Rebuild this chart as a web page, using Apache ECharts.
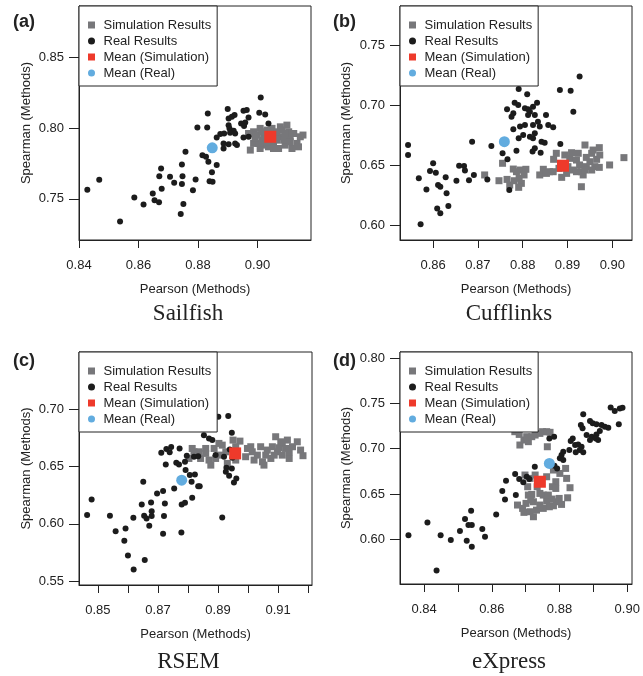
<!DOCTYPE html>
<html>
<head>
<meta charset="utf-8">
<script src="https://cdn.jsdelivr.net/npm/echarts@6.0.0/dist/echarts.min.js"></script>
<style>
  html, body { margin: 0; padding: 0; background: #fff; }
  #main { width: 643px; height: 676px; }
</style>
</head>
<body>
<div id="main"></div>
<script>
var myChart = echarts.init(document.getElementById('main'));

// (a) Sailfish
var simA = [[0.8976,0.7844],[0.8987,0.7973],[0.8998,0.7950],[0.9009,0.7997],[0.9015,0.7914],[0.9026,0.7879],[0.9009,0.7855],[0.9037,0.7867],[0.9054,0.7891],[0.9065,0.7914],[0.9077,0.8008],[0.9082,0.7985],[0.9099,0.8020],[0.9105,0.7973],[0.9110,0.7938],[0.9122,0.7961],[0.9133,0.7891],[0.9144,0.7938],[0.9153,0.7950],[0.9116,0.7855],[0.9093,0.7879],[0.9077,0.7938],[0.9060,0.7961],[0.9049,0.7997],[0.9032,0.7985],[0.9021,0.7938],[0.8987,0.7891],[0.9004,0.7891],[0.8970,0.7961],[0.8992,0.7926],[0.9071,0.7855],[0.9088,0.7914],[0.9138,0.7867],[0.9110,0.7903],[0.9015,0.7973],[0.9054,0.7855],[0.9093,0.7961],[0.9043,0.7926],[0.9065,0.7973],[0.9032,0.7903]];
var realA = [[0.9011,0.8215],[0.8900,0.8133],[0.8953,0.8121],[0.8964,0.8126],[0.8833,0.8102],[0.9006,0.8107],[0.9026,0.8095],[0.8923,0.8091],[0.8903,0.8067],[0.8914,0.8079],[0.8970,0.8074],[0.8945,0.8032],[0.8959,0.8039],[0.8955,0.8013],[0.9037,0.8032],[0.8798,0.8004],[0.8831,0.8004],[0.8903,0.8020],[0.8906,0.7997],[0.8920,0.7980],[0.8875,0.7957],[0.8888,0.7961],[0.8908,0.7966],[0.8925,0.7961],[0.8863,0.7933],[0.8953,0.7933],[0.8970,0.7938],[0.8886,0.7891],[0.8903,0.7886],[0.8925,0.7891],[0.8931,0.7879],[0.8886,0.7855],[0.8758,0.7832],[0.8815,0.7808],[0.8827,0.7797],[0.8835,0.7761],[0.8863,0.7738],[0.8746,0.7743],[0.8676,0.7714],[0.8847,0.7688],[0.8670,0.7660],[0.8706,0.7656],[0.8748,0.7660],[0.8792,0.7637],[0.8468,0.7634],[0.8720,0.7613],[0.8746,0.7604],[0.8839,0.7625],[0.8849,0.7620],[0.8678,0.7571],[0.8783,0.7561],[0.8428,0.7564],[0.8648,0.7538],[0.8586,0.7510],[0.8654,0.7491],[0.8669,0.7477],[0.8617,0.7460],[0.8751,0.7463],[0.8742,0.7394],[0.8538,0.7340]];
var meanSimA = [[0.9043,0.7938]];
var meanRealA = [[0.8848,0.7860]];

// (b) Cufflinks
var simB = [[0.8715,0.6419],[0.8747,0.6371],[0.8755,0.6516],[0.8779,0.6468],[0.8786,0.6446],[0.8795,0.6460],[0.8807,0.6466],[0.8803,0.6419],[0.8792,0.6391],[0.8797,0.6349],[0.8771,0.6335],[0.8765,0.6382],[0.8791,0.6316],[0.8781,0.6371],[0.8838,0.6419],[0.8846,0.6466],[0.8860,0.6446],[0.8869,0.6549],[0.8875,0.6599],[0.8881,0.6474],[0.8887,0.6399],[0.8901,0.6488],[0.8905,0.6557],[0.8913,0.6460],[0.8909,0.6604],[0.8920,0.6543],[0.8924,0.6599],[0.8927,0.6502],[0.8931,0.6446],[0.8939,0.6668],[0.8942,0.6565],[0.8942,0.6488],[0.8950,0.6529],[0.8954,0.6599],[0.8957,0.6626],[0.8961,0.6488],[0.8965,0.6549],[0.8971,0.6646],[0.8972,0.6585],[0.8971,0.6482],[0.8994,0.6502],[0.9026,0.6563],[0.8931,0.6321],[0.8935,0.6419],[0.8920,0.6446],[0.8898,0.6432],[0.8868,0.6446],[0.8853,0.6432],[0.8894,0.6585],[0.8939,0.6460],[0.8954,0.6460]];
var realB = [[0.8927,0.7237],[0.8883,0.7126],[0.8907,0.7120],[0.8791,0.7134],[0.8810,0.7090],[0.8913,0.6945],[0.8782,0.7020],[0.8790,0.7001],[0.8832,0.7020],[0.8823,0.6987],[0.8805,0.6973],[0.8812,0.6965],[0.8816,0.6945],[0.8765,0.6965],[0.8779,0.6932],[0.8775,0.6904],[0.8812,0.6918],[0.8827,0.6918],[0.8852,0.6918],[0.8794,0.6821],[0.8805,0.6834],[0.8823,0.6834],[0.8834,0.6862],[0.8838,0.6821],[0.8857,0.6834],[0.8868,0.6815],[0.8779,0.6798],[0.8801,0.6751],[0.8791,0.6724],[0.8816,0.6737],[0.8823,0.6724],[0.8827,0.6765],[0.8842,0.6696],[0.8849,0.6687],[0.8687,0.6696],[0.8730,0.6660],[0.8884,0.6677],[0.8827,0.6640],[0.8822,0.6613],[0.8786,0.6621],[0.8840,0.6604],[0.8755,0.6599],[0.8766,0.6549],[0.8544,0.6668],[0.8544,0.6585],[0.8600,0.6516],[0.8593,0.6452],[0.8606,0.6438],[0.8658,0.6496],[0.8669,0.6493],[0.8671,0.6455],[0.8568,0.6391],[0.8628,0.6399],[0.8652,0.6371],[0.8680,0.6374],[0.8691,0.6418],[0.8721,0.6382],[0.8585,0.6299],[0.8611,0.6335],[0.8616,0.6321],[0.8630,0.6266],[0.8609,0.6141],[0.8634,0.6161],[0.8616,0.6100],[0.8572,0.6008],[0.8770,0.6294]];
var meanSimB = [[0.8890,0.6496]];
var meanRealB = [[0.8759,0.6696]];

// (c) RSEM
var simC = [[0.8814,0.6657],[0.8828,0.6599],[0.8842,0.6570],[0.8859,0.6657],[0.8870,0.6556],[0.8876,0.6512],[0.8887,0.6657],[0.8892,0.6570],[0.8903,0.6701],[0.8914,0.6686],[0.8926,0.6628],[0.8931,0.6527],[0.8950,0.6730],[0.8973,0.6721],[0.8992,0.6585],[0.8998,0.6657],[0.9014,0.6628],[0.9020,0.6556],[0.9031,0.6599],[0.9042,0.6672],[0.9048,0.6541],[0.9053,0.6512],[0.9064,0.6643],[0.9076,0.6570],[0.9081,0.6672],[0.9092,0.6759],[0.9098,0.6628],[0.9109,0.6701],[0.9114,0.6599],[0.9125,0.6657],[0.9131,0.6730],[0.9137,0.6570],[0.9148,0.6672],[0.9164,0.6715],[0.9175,0.6643],[0.9183,0.6594],[0.9137,0.6628],[0.9103,0.6663],[0.9009,0.6672],[0.8959,0.6672],[0.8859,0.6614],[0.8837,0.6628],[0.8909,0.6599],[0.8820,0.6628],[0.8803,0.6570],[0.9059,0.6599],[0.9087,0.6599],[0.9114,0.6715],[0.8959,0.6556]];
var realC = [[0.8853,0.6904],[0.8859,0.6884],[0.8901,0.6933],[0.8934,0.6939],[0.8814,0.6832],[0.8946,0.6794],[0.8853,0.6773],[0.8870,0.6744],[0.8881,0.6730],[0.8711,0.6620],[0.8728,0.6652],[0.8744,0.6669],[0.8739,0.6623],[0.8772,0.6657],[0.8939,0.6649],[0.8796,0.6593],[0.8820,0.6585],[0.8834,0.6590],[0.8892,0.6599],[0.8920,0.6585],[0.8948,0.6576],[0.8761,0.6532],[0.8770,0.6518],[0.8790,0.6541],[0.8726,0.6518],[0.8792,0.6469],[0.8928,0.6489],[0.8946,0.6483],[0.8926,0.6454],[0.8937,0.6419],[0.8961,0.6396],[0.8953,0.6361],[0.8806,0.6425],[0.8823,0.6431],[0.8812,0.6367],[0.8651,0.6367],[0.8834,0.6329],[0.8839,0.6329],[0.8717,0.6286],[0.8697,0.6265],[0.8754,0.6309],[0.8479,0.6213],[0.8814,0.6228],[0.8779,0.6169],[0.8790,0.6184],[0.8677,0.6187],[0.8723,0.6178],[0.8646,0.6169],[0.8464,0.6077],[0.8540,0.6071],[0.8618,0.6053],[0.8654,0.6071],[0.8679,0.6111],[0.8662,0.6048],[0.8679,0.6068],[0.8720,0.6068],[0.8914,0.6056],[0.8671,0.5984],[0.8559,0.5937],[0.8592,0.5960],[0.8717,0.5914],[0.8778,0.5925],[0.8588,0.5853],[0.8600,0.5725],[0.8656,0.5685],[0.8619,0.5603]];
var meanSimC = [[0.8957,0.6614]];
var meanRealC = [[0.8779,0.6381]];

// (d) eXpress
var simD = [[0.8668,0.7187],[0.8681,0.7157],[0.8683,0.7040],[0.8695,0.7095],[0.8708,0.7077],[0.8703,0.7132],[0.8718,0.7132],[0.8728,0.7150],[0.8742,0.7168],[0.8750,0.7187],[0.8762,0.7187],[0.8772,0.7180],[0.8764,0.7021],[0.8782,0.6764],[0.8801,0.6727],[0.8818,0.6782],[0.8821,0.6672],[0.8789,0.6635],[0.8779,0.6580],[0.8789,0.6561],[0.8831,0.6569],[0.8824,0.6458],[0.8799,0.6451],[0.8791,0.6414],[0.8782,0.6370],[0.8770,0.6359],[0.8762,0.6422],[0.8752,0.6488],[0.8742,0.6506],[0.8734,0.6580],[0.8718,0.6495],[0.8708,0.6488],[0.8701,0.6396],[0.8691,0.6341],[0.8676,0.6378],[0.8695,0.6297],[0.8713,0.6304],[0.8723,0.6249],[0.8732,0.6322],[0.8742,0.6378],[0.8723,0.6414],[0.8715,0.6433],[0.8752,0.6341],[0.8706,0.6580],[0.8713,0.6672],[0.8698,0.6709],[0.8728,0.6709],[0.8762,0.6690],[0.8806,0.6385],[0.8767,0.6488],[0.8778,0.6444]];
var realD = [[0.8951,0.7455],[0.8963,0.7415],[0.8978,0.7444],[0.8986,0.7452],[0.8870,0.7378],[0.8890,0.7305],[0.8898,0.7279],[0.8909,0.7268],[0.8924,0.7260],[0.8934,0.7242],[0.8944,0.7231],[0.8975,0.7268],[0.8863,0.7260],[0.8868,0.7224],[0.8880,0.7150],[0.8895,0.7132],[0.8909,0.7157],[0.8919,0.7194],[0.8914,0.7095],[0.8907,0.7113],[0.8890,0.7095],[0.8839,0.7113],[0.8833,0.7084],[0.8846,0.7040],[0.8855,0.7047],[0.8865,0.7021],[0.8860,0.6985],[0.8870,0.6959],[0.8848,0.6959],[0.8829,0.6985],[0.8784,0.7132],[0.8770,0.7113],[0.8811,0.6966],[0.8806,0.6929],[0.8801,0.6893],[0.8811,0.6874],[0.8785,0.6812],[0.8793,0.6782],[0.8727,0.6801],[0.8669,0.6720],[0.8681,0.6664],[0.8703,0.6690],[0.8711,0.6664],[0.8693,0.6628],[0.8642,0.6646],[0.8631,0.6532],[0.8671,0.6488],[0.8639,0.6440],[0.8613,0.6274],[0.8539,0.6315],[0.8521,0.6223],[0.8531,0.6157],[0.8541,0.6157],[0.8410,0.6186],[0.8506,0.6091],[0.8526,0.5984],[0.8541,0.5918],[0.8572,0.6113],[0.8580,0.6028],[0.8479,0.5991],[0.8449,0.6046],[0.8354,0.6046],[0.8437,0.5656]];
var meanSimD = [[0.8742,0.6635]];
var meanRealD = [[0.8770,0.6837]];

// axis ranges and ticks
var xRangeA = [0.84, 0.918],  yRangeA = [0.721, 0.886];
var xRangeB = [0.8526, 0.9044], yRangeB = [0.5878, 0.7824];
var xRangeC = [0.8437, 0.9213], yRangeC = [0.5468, 0.7497];
var xRangeD = [0.8329, 0.9014], yRangeD = [0.5507, 0.8066];

var xTicksA = [0.84, 0.86, 0.88, 0.90], xLabelsA = xTicksA;
var yTicksA = [0.75, 0.80, 0.85];
var xTicksB = [0.86, 0.87, 0.88, 0.89, 0.90], xLabelsB = xTicksB;
var yTicksB = [0.60, 0.65, 0.70, 0.75];
var xTicksC = [0.85, 0.86, 0.87, 0.88, 0.89, 0.90, 0.91, 0.92];
var xLabelsC = [0.85, 0.87, 0.89, 0.91];
var yTicksC = [0.55, 0.60, 0.65, 0.70];
var xTicksD = [0.84, 0.85, 0.86, 0.87, 0.88, 0.89, 0.90];
var xLabelsD = [0.84, 0.86, 0.88, 0.90];
var yTicksD = [0.60, 0.65, 0.70, 0.75, 0.80];

var panelNames = ['Sailfish', 'Cufflinks', 'RSEM', 'eXpress'];
var panelTags = ['(a)', '(b)', '(c)', '(d)'];
var seriesNames = ['Simulation Results', 'Real Results', 'Mean (Simulation)', 'Mean (Real)'];

var txt = '#222';
var sans = 'Liberation Sans, Arial, Helvetica, sans-serif';
var squareIcon = 'path://M0,0L10,0L10,10L0,10Z';

var panels = [
  {grid: {left: 79, top: 6, width: 232, height: 234}, xr: xRangeA, yr: yRangeA, xt: xTicksA, xl: xLabelsA, yt: yTicksA, yg: 46,
   sim: simA, real: realA, ms: meanSimA, mr: meanRealA},
  {grid: {left: 400, top: 6, width: 232, height: 234}, xr: xRangeB, yr: yRangeB, xt: xTicksB, xl: xLabelsB, yt: yTicksB, yg: 47,
   sim: simB, real: realB, ms: meanSimB, mr: meanRealB},
  {grid: {left: 79, top: 352, width: 233, height: 233}, xr: xRangeC, yr: yRangeC, xt: xTicksC, xl: xLabelsC, yt: yTicksC, yg: 46,
   sim: simC, real: realC, ms: meanSimC, mr: meanRealC},
  {grid: {left: 400, top: 352, width: 232, height: 232}, xr: xRangeD, yr: yRangeD, xt: xTicksD, xl: xLabelsD, yt: yTicksD, yg: 47,
   sim: simD, real: realD, ms: meanSimD, mr: meanRealD}
];

var grids = [], xAxes = [], yAxes = [], series = [], legends = [], graphics = [];
var fmt = function (v) { return v.toFixed(2); };

panels.forEach(function (p, i) {
  grids.push(Object.assign({show: true, borderColor: txt, borderWidth: 1, backgroundColor: 'transparent'}, p.grid));
  xAxes.push({
    type: 'value', gridIndex: i, min: p.xr[0], max: p.xr[1],
    name: 'Pearson (Methods)', nameLocation: 'middle', nameGap: 43, nameMoveOverlap: false,
    nameTextStyle: {fontFamily: sans, fontSize: 13, color: txt},
    axisLine: {show: true, lineStyle: {color: txt}},
    axisTick: {show: true, length: 8, customValues: p.xt, lineStyle: {color: txt}},
    axisLabel: {customValues: p.xl, formatter: fmt, margin: 19, fontFamily: sans, fontSize: 13, color: txt},
    splitLine: {show: false}
  });
  yAxes.push({
    type: 'value', gridIndex: i, min: p.yr[0], max: p.yr[1],
    name: 'Spearman (Methods)', nameLocation: 'middle', nameGap: p.yg, nameMoveOverlap: false,
    nameTextStyle: {fontFamily: sans, fontSize: 13, color: txt},
    axisLine: {show: true, lineStyle: {color: txt}},
    axisTick: {show: true, length: 10, customValues: p.yt, lineStyle: {color: txt}},
    axisLabel: {customValues: p.yt, formatter: fmt, margin: 15, fontFamily: sans, fontSize: 13, color: txt},
    splitLine: {show: false}
  });
  series.push(
    {name: seriesNames[0], type: 'scatter', xAxisIndex: i, yAxisIndex: i, data: p.sim,
     symbol: 'rect', symbolSize: 7, itemStyle: {color: '#77777a', opacity: 1}},
    {name: seriesNames[1], type: 'scatter', xAxisIndex: i, yAxisIndex: i, data: p.real,
     symbol: 'circle', symbolSize: 6, itemStyle: {color: '#1c1c1c', opacity: 1}},
    {name: seriesNames[2], type: 'scatter', xAxisIndex: i, yAxisIndex: i, data: p.ms,
     symbol: 'rect', symbolSize: 12, itemStyle: {color: '#ee3a2b', opacity: 1}},
    {name: seriesNames[3], type: 'scatter', xAxisIndex: i, yAxisIndex: i, data: p.mr,
     symbol: 'circle', symbolSize: 11, itemStyle: {color: '#62acdf', opacity: 1}}
  );
  legends.push({
    orient: 'vertical', left: p.grid.left, top: p.grid.top,
    selectedMode: false,
    backgroundColor: '#fff', borderColor: txt, borderWidth: 1,
    padding: [12, 6, 6, 9], itemGap: 2, itemWidth: 14, itemHeight: 7,
    textStyle: {fontFamily: sans, fontSize: 13, color: txt, lineHeight: 14},
    data: [
      {name: seriesNames[0], icon: squareIcon},
      {name: seriesNames[1], icon: 'circle'},
      {name: seriesNames[2], icon: squareIcon},
      {name: seriesNames[3], icon: 'circle'}
    ]
  });
  var cx = p.grid.left + p.grid.width / 2 - 7;
  graphics.push({
    type: 'text',
    style: {text: panelNames[i], font: '23px "Liberation Serif", "Times New Roman", serif', fill: txt, textAlign: 'center', textVerticalAlign: 'middle'},
    position: [cx, i < 2 ? 314 : 662]
  });
  graphics.push({
    type: 'text',
    style: {text: panelTags[i], font: 'bold 18px "Liberation Sans", Arial, sans-serif', fill: txt, textAlign: 'left', textVerticalAlign: 'middle'},
    position: [(i % 2) * 320 + 13, i < 2 ? 22 : 361]
  });
});

var option = {
  animation: false,
  backgroundColor: '#fff',
  grid: grids,
  xAxis: xAxes,
  yAxis: yAxes,
  legend: legends,
  series: series,
  graphic: graphics
};
myChart.setOption(option);
</script>
</body>
</html>
